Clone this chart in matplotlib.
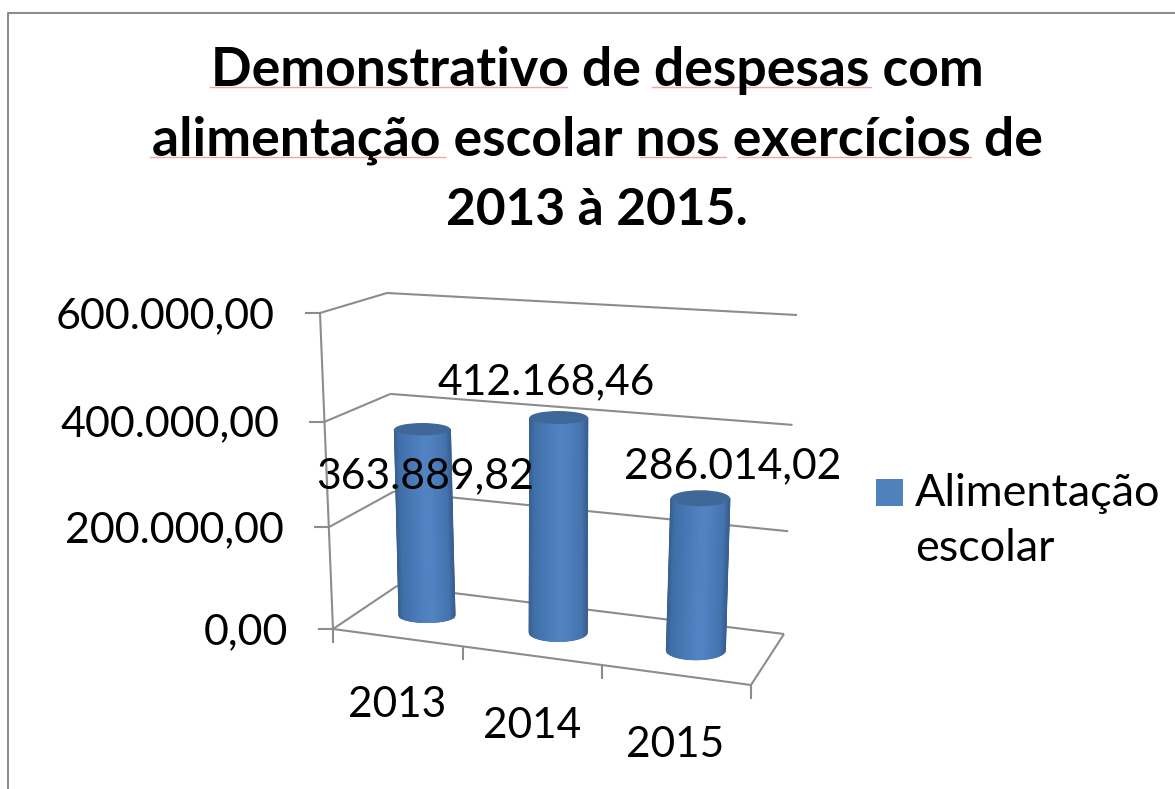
import numpy as np
import matplotlib
matplotlib.use("Agg")
import matplotlib.pyplot as plt
from matplotlib.colors import LinearSegmentedColormap
from matplotlib.patches import Ellipse, Rectangle

categories = ["2013", "2014", "2015"]
values = [363889.82, 412168.46, 286014.02]
axis_ticks = [0, 200000, 400000, 600000]
series_name = "Alimentação\nescolar"
title_lines = ["Demonstrativo de despesas com",
               "alimentação escolar nos exercícios de",
               "2013 à 2015."]

AXIS_MAX = 600000.0
GRID = "#8c8c8c"
FONT = "Lato"

# pixel positions of the 3d box corners, (side, depth, height)
corners = {
    (0, 0, 0): (333, 629), (1, 0, 0): (751, 685),
    (0, 1, 0): (397, 586), (1, 1, 0): (784, 634),
    (0, 0, 1): (320, 313), (1, 0, 1): (766, 360),
    (0, 1, 1): (387, 293), (1, 1, 1): (797, 315),
}


def project(side, depth, value, bend=0.0):
    h = value / AXIS_MAX
    h = h * (1 - bend * (1 - h))
    x, y = 0.0, 0.0
    for (a, b, c), (px, py) in corners.items():
        w = (side if a else 1 - side) * (depth if b else 1 - depth) * (h if c else 1 - h)
        x += w * px
        y += w * py
    return x, y


def money(v):
    return f"{v:,.2f}".replace(",", "#").replace(".", ",").replace("#", ".")


def seg(ax, p, q, lw=1.5):
    ax.plot([p[0], q[0]], [p[1], q[1]], color=GRID, lw=lw, solid_capstyle="butt", zorder=1)


fig = plt.figure(figsize=(11.75, 7.89), dpi=100, facecolor="white")
ax = fig.add_axes([0, 0, 1, 1])
ax.set_xlim(0, 1175)
ax.set_ylim(789, 0)
ax.axis("off")

# outer frame of the chart, cut off by the crop
ax.plot([7.5, 7.5, 1175], [789, 12.5, 12.5], color=GRID, lw=1.5, zorder=1)

# title
title_y = [85.5, 155, 225]
title_size = [38.5, 38.5, 37]
for line, y, size in zip(title_lines, title_y, title_size):
    ax.text(597, y, line, ha="center", va="baseline", fontsize=size, fontweight="bold",
            family=FONT, color="black", zorder=5)

# spell check underlines under the title words
squiggles = [(210, 567, 87), (652, 871, 87), (150, 445, 157), (640, 726, 157), (738, 971, 157)]
for x0, x1, y in squiggles:
    ax.plot([x0, x1], [y, y], color="#f5a3a3", lw=1, zorder=4)

# walls and floor
grid_bend = 0.05
label_dy = [3, 3, 2, 3]
for t, dy in zip(axis_ticks, label_dy):
    seg(ax, project(0, 0, t, grid_bend), project(0, 1, t, grid_bend))
    seg(ax, project(0, 1, t, grid_bend), project(1, 1, t, grid_bend))
    fx, fy = project(0, 0, t, grid_bend)
    seg(ax, (fx - 15, fy), (fx, fy))
    ax.text(fx - 45, fy + dy, money(t), ha="right", va="center", fontsize=31, family=FONT, zorder=5)
seg(ax, project(0, 0, 0), project(0, 0, AXIS_MAX))
seg(ax, project(0, 0, 0), project(1, 0, 0))
seg(ax, project(1, 0, 0), project(1, 1, 0))

# category ticks
tick_sides = [0, 0.311, 0.644, 1]
for s in tick_sides:
    tx, ty = project(s, 0, 0)
    seg(ax, (tx, ty), (tx, ty + 14))

# cylinders
cmap = LinearSegmentedColormap.from_list(
    "cyl", [(0, "#38608f"), (0.08, "#4070a8"), (0.5, "#5183c3"), (0.62, "#5183c3"),
            (0.92, "#4473ad"), (1, "#385f92")])
bar_sides = [0.154, 0.48, 0.822]
half_w = [28, 29, 29.5]
top_ry = [6.2, 6.5, 8]
bot_ry = [7, 9, 9.5]
for s, v, w, rt, rb in zip(bar_sides, values, half_w, top_ry, bot_ry):
    xb, yb = project(s, 0.5, 0)
    xt, yt = project(s, 0.5, v)
    u = np.linspace(-1, 1, 121)
    arc = np.sqrt(1 - u ** 2)
    X = np.vstack([xt + u * w, xb + u * w])
    Y = np.vstack([yt + rt * arc, yb + rb * arc])
    C = np.vstack([(u + 1) / 2, (u + 1) / 2])
    ax.pcolormesh(X, Y, C, cmap=cmap, vmin=0, vmax=1, shading="gouraud", zorder=2)
    ax.add_patch(Ellipse((xt, yt), 2 * w, 2 * rt, facecolor="#3f6899", edgecolor="none", zorder=3))

# data labels
label_pos = [(425, 476), (546, 382), (733, 466)]
for (lx, ly), v in zip(label_pos, values):
    ax.text(lx, ly, money(v), ha="center", va="center", fontsize=30.7, family=FONT, zorder=6)

# category labels
cat_pos = [(397, 705), (532, 726), (675, 745)]
for (lx, ly), c in zip(cat_pos, categories):
    ax.text(lx, ly, c, ha="center", va="center", fontsize=30.5, family=FONT, zorder=6)

# legend
ax.add_patch(Rectangle((876, 479), 27, 27, facecolor="#4f81bd", edgecolor="none"))
ax.text(915, 521, series_name, ha="left", va="center", fontsize=32.4, family=FONT,
        linespacing=1.42, zorder=6)

fig.savefig("out.png", dpi=100)
plt.close(fig)
